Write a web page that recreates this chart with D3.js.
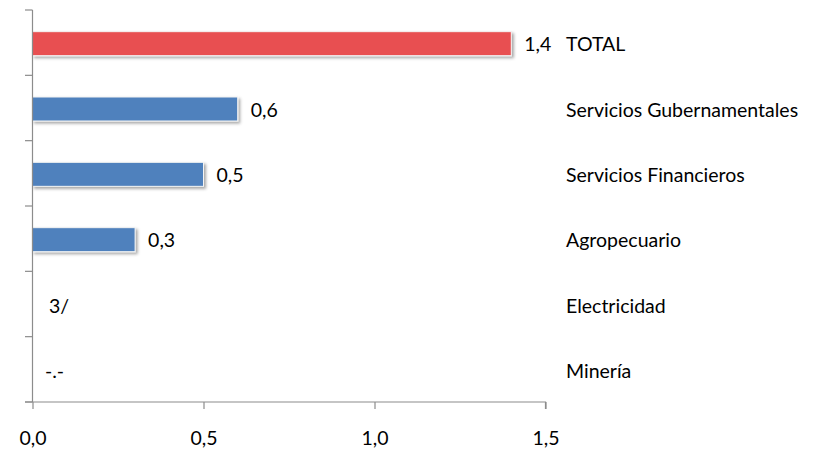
<!DOCTYPE html>
<html><head><meta charset="utf-8">
<script src="https://cdn.jsdelivr.net/npm/d3@7"></script>
<style>body{margin:0;background:#fff}svg{display:block}text{font-family:Lato,"Open Sans",sans-serif;fill:#000}</style>
</head><body><svg id="c" width="827" height="449"></svg>
<script>
const categories = ["TOTAL","Servicios Gubernamentales","Servicios Financieros","Agropecuario","Electricidad","Minería"];
const values = [1.4, 0.6, 0.5, 0.3, null, null];
const valueLabels = ["1,4","0,6","0,5","0,3","3/","-.-"];
const barColors = ["#E84F51","#4F81BD","#4F81BD","#4F81BD",null,null];
const xTicks = [0, 0.5, 1.0, 1.5];
const xTickLabels = ["0,0","0,5","1,0","1,5"];

const FS = 19.5;
const svg = d3.select("#c");
const x = d3.scaleLinear().domain([0,1.5]).range([32.5,545.5]);
const y = d3.scaleBand().domain(categories).range([10,402]);

const defs = svg.append("defs");
const f = defs.append("filter").attr("id","sh").attr("x","-10%").attr("y","-30%").attr("width","130%").attr("height","180%");
f.append("feDropShadow").attr("dx",2).attr("dy",2).attr("stdDeviation",1.5).attr("flood-color","#000").attr("flood-opacity",0.35);

const bh = 24;
svg.append("g").selectAll("rect").data(categories.map((c,i)=>({c,v:values[i],col:barColors[i]})).filter(d=>d.v!=null))
  .join("rect")
  .attr("x",x(0)).attr("y",d=>y(d.c)+y.bandwidth()/2-bh/2+1)
  .attr("width",d=>x(d.v)-x(0)).attr("height",bh)
  .attr("fill",d=>d.col).attr("stroke","#f4f4f4").attr("stroke-width",1)
  .attr("filter","url(#sh)");

// y axis
const ya = svg.append("g").attr("stroke","#8c8c8c").attr("stroke-width",1.2);
ya.append("line").attr("x1",x(0)).attr("x2",x(0)).attr("y1",10).attr("y2",402);
const bounds = categories.map(c=>y(c)).concat([402]);
ya.selectAll("line.t").data(bounds).join("line").attr("class","t")
  .attr("x1",25).attr("x2",x(0)).attr("y1",d=>d).attr("y2",d=>d);
// x axis
const xa = svg.append("g").attr("transform","translate(0,402)")
  .call(d3.axisBottom(x).tickValues(xTicks).tickSize(7).tickFormat((d,i)=>xTickLabels[i]));
xa.select(".domain").attr("stroke","#8c8c8c").attr("stroke-width",1.2).attr("d",`M25,0H${x(1.5)}V7`);
xa.selectAll(".tick line").attr("stroke","#8c8c8c").attr("stroke-width",1.2);
xa.selectAll(".tick text").attr("font-size",FS).attr("font-family","Lato").attr("fill","#000").attr("dy",0).attr("y",43);

// value labels
svg.append("g").selectAll("text").data(categories.map((c,i)=>({c,v:values[i],l:valueLabels[i],i})))
  .join("text")
  .attr("x",d=>d.v!=null ? x(d.v)+13 : (d.l==="3/"?49:45))
  .attr("y",d=>y(d.c)+y.bandwidth()/2+8.5)
  .attr("font-size",FS).text(d=>d.l);

// category labels
svg.append("g").selectAll("text").data(categories).join("text")
  .attr("x",566).attr("y",d=>y(d)+y.bandwidth()/2+8.5)
  .attr("font-size",FS).text(d=>d);
</script></body></html>
